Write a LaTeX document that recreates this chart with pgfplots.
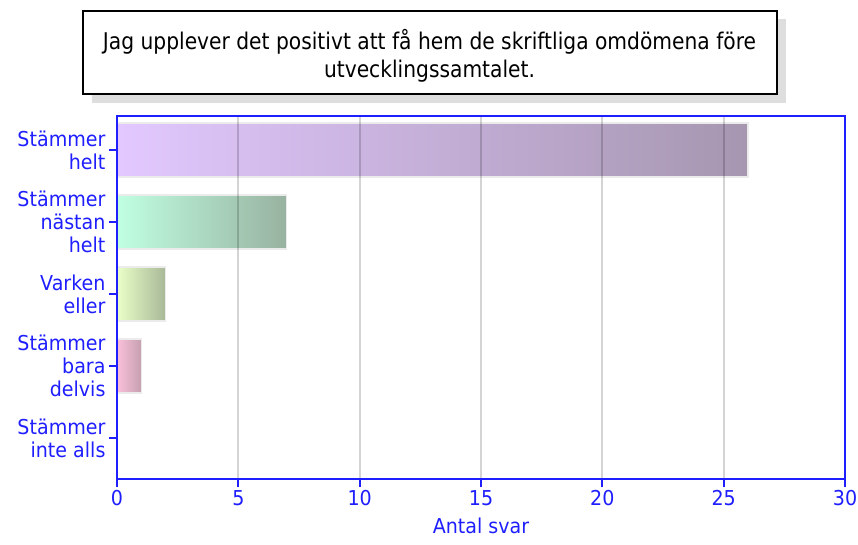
\documentclass[border=0pt]{standalone}
\usepackage{fontspec}
\setmainfont{DejaVu Sans}
\newfontfamily\lblfont[FakeStretch=0.93]{DejaVu Sans}
\newfontfamily\ttlfont[FakeStretch=0.88]{DejaVu Sans}
\usepackage{pgfplots}
\pgfplotsset{compat=1.18}
\definecolor{axblue}{RGB}{30,30,255}
\definecolor{aL}{RGB}{226,200,255}
\definecolor{aR}{RGB}{166,150,176}
\definecolor{bL}{RGB}{192,255,226}
\definecolor{bR}{RGB}{152,178,160}
\definecolor{cL}{RGB}{234,255,200}
\definecolor{cR}{RGB}{168,184,152}
\definecolor{dL}{RGB}{250,192,218}
\definecolor{dR}{RGB}{198,160,176}
\begin{document}
\begin{tikzpicture}[x=1pt,y=1pt]
\useasboundingbox (0,0) rectangle (858,545);
\fill[black!13] (92,442) rectangle (786,526);
\draw[fill=white, line width=1.6pt] (83,451) rectangle (777,534);
\node[align=center, font=\ttlfont\fontsize{23}{28}\selectfont] at (429.5,489.5)
  {Jag upplever det positivt att få hem de skriftliga omdömena före\\utvecklingssamtalet.};
\begin{axis}[
  at={(117pt,66pt)}, anchor=south west,
  scale only axis, width=728pt, height=363pt,
  xmin=0, xmax=30, ymin=-0.472, ymax=4.57, y dir=reverse,
  xtick={0,5,...,30}, ytick={0,1,2,3,4},
  yticklabels={{Stämmer\\helt},{Stämmer\\nästan\\helt},{Varken\\eller},{Stämmer\\bara\\delvis},{Stämmer\\inte alls}},
  yticklabel style={align=right},
  tick label style={font=\lblfont\fontsize{20.5}{23}\selectfont, text=axblue},
  /pgf/number format/assume math mode=true,
  xlabel={Antal svar},
  xlabel style={font=\lblfont\fontsize{20.5}{23}\selectfont, text=axblue, yshift=-5pt},
  axis line style={axblue, line width=2pt},
  tick style={axblue, line width=2pt},
  major tick length=8pt, tick align=outside, tick pos=left,
  xmajorgrids, ymajorgrids=false,
  major grid style={black, opacity=0.17, line width=1.8pt},
  axis on top,
]
\addplot[xbar, bar shift=0pt, bar width=0.75, draw=white!92!black, line width=1.2pt, left color=aL, right color=aR] coordinates {(26,0)};
\addplot[xbar, bar shift=0pt, bar width=0.75, draw=white!92!black, line width=1.2pt, left color=bL, right color=bR] coordinates {(7,1)};
\addplot[xbar, bar shift=0pt, bar width=0.75, draw=white!92!black, line width=1.2pt, left color=cL, right color=cR] coordinates {(2,2)};
\addplot[xbar, bar shift=0pt, bar width=0.75, draw=white!92!black, line width=1.2pt, left color=dL, right color=dR] coordinates {(1,3)};
\addplot[xbar, bar shift=0pt, bar width=0.75, draw=none, fill=none] coordinates {(0,4)};
\end{axis}
\end{tikzpicture}
\end{document}
